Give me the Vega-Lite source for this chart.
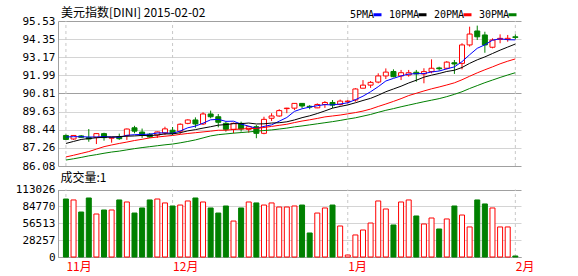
{
  "$schema": "https://vega.github.io/schema/vega-lite/v6.json",
  "width": 463,
  "height": 236,
  "autosize": {"type": "none"},
  "padding": {"left": 58, "top": 21, "right": 57, "bottom": 19},
  "background": "#ffffff",
  "title": {"text": "美元指数[DINI] 2015-02-02", "anchor": "start", "frame": "group", "font": "Noto Sans CJK SC", "fontSize": 12, "fontWeight": "normal", "color": "#000000", "offset": -11, "dx": 3},
  "config": {"view": {"stroke": null}, "axis": {"labelOverlap": false}},
  "datasets": {
    "k": [
      {"i":1,"d":"dn","o":88.07,"h":88.14,"l":87.78,"c":87.81,"v":97100,"ma5":87.97,"ma10":87.55,"ma20":86.67,"ma30":86.47},
      {"i":2,"d":"up","o":87.84,"h":88.10,"l":87.78,"c":88.07,"v":95500,"ma5":87.99,"ma10":87.68,"ma20":86.78,"ma30":86.55},
      {"i":3,"d":"dn","o":88.04,"h":88.10,"l":87.91,"c":87.95,"v":75300,"ma5":87.99,"ma10":87.81,"ma20":86.90,"ma30":86.64},
      {"i":4,"d":"dn","o":87.93,"h":88.49,"l":87.66,"c":87.84,"v":98800,"ma5":87.97,"ma10":87.87,"ma20":87.02,"ma30":86.74},
      {"i":5,"d":"up","o":87.95,"h":88.23,"l":87.51,"c":88.19,"v":72000,"ma5":87.97,"ma10":87.92,"ma20":87.18,"ma30":86.82},
      {"i":6,"d":"dn","o":88.19,"h":88.25,"l":87.73,"c":87.93,"v":78700,"ma5":88.00,"ma10":87.95,"ma20":87.34,"ma30":86.91},
      {"i":7,"d":"up","o":87.89,"h":87.97,"l":87.60,"c":87.95,"v":78700,"ma5":87.97,"ma10":87.97,"ma20":87.45,"ma30":86.99},
      {"i":8,"d":"dn","o":87.97,"h":88.19,"l":87.78,"c":87.86,"v":95500,"ma5":87.95,"ma10":88.00,"ma20":87.55,"ma30":87.05},
      {"i":9,"d":"up","o":88.07,"h":88.52,"l":87.78,"c":88.49,"v":92100,"ma5":88.08,"ma10":88.02,"ma20":87.64,"ma30":87.13},
      {"i":10,"d":"dn","o":88.57,"h":88.70,"l":88.21,"c":88.35,"v":73600,"ma5":88.12,"ma10":88.04,"ma20":87.74,"ma30":87.21},
      {"i":11,"d":"dn","o":88.29,"h":88.52,"l":87.91,"c":88.07,"v":82100,"ma5":88.14,"ma10":88.07,"ma20":87.82,"ma30":87.28},
      {"i":12,"d":"dn","o":88.15,"h":88.23,"l":87.91,"c":87.97,"v":95500,"ma5":88.15,"ma10":88.06,"ma20":87.91,"ma30":87.34},
      {"i":13,"d":"up","o":88.10,"h":88.33,"l":87.91,"c":88.30,"v":97100,"ma5":88.23,"ma10":88.10,"ma20":87.97,"ma30":87.40},
      {"i":14,"d":"up","o":88.23,"h":88.64,"l":88.10,"c":88.50,"v":90500,"ma5":88.24,"ma10":88.17,"ma20":88.02,"ma30":87.46},
      {"i":15,"d":"dn","o":88.41,"h":88.62,"l":88.10,"c":88.21,"v":85400,"ma5":88.21,"ma10":88.17,"ma20":88.07,"ma30":87.51},
      {"i":16,"d":"up","o":88.35,"h":88.86,"l":88.17,"c":88.80,"v":87000,"ma5":88.36,"ma10":88.25,"ma20":88.14,"ma30":87.59},
      {"i":17,"d":"up","o":88.86,"h":89.12,"l":88.80,"c":89.08,"v":93800,"ma5":88.57,"ma10":88.37,"ma20":88.20,"ma30":87.68},
      {"i":18,"d":"dn","o":89.08,"h":89.25,"l":88.57,"c":88.82,"v":98800,"ma5":88.68,"ma10":88.45,"ma20":88.25,"ma30":87.78},
      {"i":19,"d":"up","o":88.82,"h":89.58,"l":88.75,"c":89.47,"v":92100,"ma5":88.87,"ma10":88.55,"ma20":88.30,"ma30":87.91},
      {"i":20,"d":"dn","o":89.47,"h":89.69,"l":89.19,"c":89.29,"v":82100,"ma5":89.09,"ma10":88.64,"ma20":88.35,"ma30":88.04},
      {"i":21,"d":"dn","o":89.29,"h":89.47,"l":88.60,"c":88.93,"v":73600,"ma5":89.12,"ma10":88.74,"ma20":88.41,"ma30":88.12},
      {"i":22,"d":"dn","o":88.86,"h":88.97,"l":88.32,"c":88.47,"v":85400,"ma5":88.99,"ma10":88.78,"ma20":88.41,"ma30":88.17},
      {"i":23,"d":"up","o":88.47,"h":88.91,"l":88.21,"c":88.86,"v":60200,"ma5":89.00,"ma10":88.84,"ma20":88.46,"ma30":88.22},
      {"i":24,"d":"dn","o":88.86,"h":88.97,"l":88.32,"c":88.49,"v":82100,"ma5":88.81,"ma10":88.84,"ma20":88.49,"ma30":88.26},
      {"i":25,"d":"up","o":88.47,"h":88.68,"l":88.25,"c":88.64,"v":92100,"ma5":88.68,"ma10":88.88,"ma20":88.52,"ma30":88.30},
      {"i":26,"d":"dn","o":88.64,"h":88.75,"l":87.89,"c":88.21,"v":90500,"ma5":88.53,"ma10":88.82,"ma20":88.53,"ma30":88.35},
      {"i":27,"d":"up","o":88.21,"h":89.29,"l":88.15,"c":89.12,"v":87000,"ma5":88.66,"ma10":88.83,"ma20":88.59,"ma30":88.39},
      {"i":28,"d":"up","o":89.19,"h":89.52,"l":89.01,"c":89.34,"v":90500,"ma5":88.76,"ma10":88.88,"ma20":88.66,"ma30":88.43},
      {"i":29,"d":"up","o":89.34,"h":89.78,"l":89.29,"c":89.69,"v":83700,"ma5":89.00,"ma10":88.90,"ma20":88.73,"ma30":88.49},
      {"i":30,"d":"up","o":89.82,"h":89.87,"l":89.52,"c":89.85,"v":83700,"ma5":89.24,"ma10":88.96,"ma20":88.80,"ma30":88.55},
      {"i":31,"d":"up","o":89.85,"h":90.18,"l":89.73,"c":90.16,"v":85400,"ma5":89.64,"ma10":89.08,"ma20":88.91,"ma30":88.63},
      {"i":32,"d":"dn","o":90.16,"h":90.18,"l":89.85,"c":89.99,"v":87000,"ma5":89.81,"ma10":89.23,"ma20":89.01,"ma30":88.69},
      {"i":33,"d":"dn","o":89.97,"h":90.05,"l":89.78,"c":89.92,"v":40200,"ma5":89.92,"ma10":89.35,"ma20":89.09,"ma30":88.76},
      {"i":34,"d":"up","o":89.87,"h":90.16,"l":89.85,"c":90.09,"v":73600,"ma5":90.01,"ma10":89.50,"ma20":89.18,"ma30":88.83},
      {"i":35,"d":"up","o":90.09,"h":90.31,"l":89.87,"c":90.22,"v":82100,"ma5":90.08,"ma10":89.67,"ma20":89.28,"ma30":88.90},
      {"i":36,"d":"dn","o":90.22,"h":90.38,"l":89.85,"c":90.05,"v":87000,"ma5":90.06,"ma10":89.85,"ma20":89.34,"ma30":88.97},
      {"i":37,"d":"up","o":90.09,"h":90.41,"l":90.02,"c":90.31,"v":51900,"ma5":90.12,"ma10":89.96,"ma20":89.40,"ma30":89.05},
      {"i":38,"d":"up","o":90.27,"h":90.38,"l":90.16,"c":90.31,"v":3300,"ma5":90.20,"ma10":90.06,"ma20":89.48,"ma30":89.14},
      {"i":39,"d":"up","o":90.38,"h":91.15,"l":90.27,"c":91.10,"v":36900,"ma5":90.40,"ma10":90.20,"ma20":89.56,"ma30":89.22},
      {"i":40,"d":"up","o":91.15,"h":91.68,"l":91.15,"c":91.35,"v":45200,"ma5":90.63,"ma10":90.35,"ma20":89.66,"ma30":89.33},
      {"i":41,"d":"up","o":91.35,"h":91.62,"l":91.17,"c":91.53,"v":56900,"ma5":90.92,"ma10":90.49,"ma20":89.79,"ma30":89.44},
      {"i":42,"d":"up","o":91.55,"h":92.12,"l":91.47,"c":91.95,"v":93800,"ma5":91.25,"ma10":90.69,"ma20":89.96,"ma30":89.58},
      {"i":43,"d":"up","o":91.95,"h":92.44,"l":91.75,"c":92.20,"v":80400,"ma5":91.62,"ma10":90.92,"ma20":90.12,"ma30":89.71},
      {"i":44,"d":"dn","o":92.24,"h":92.38,"l":91.86,"c":91.90,"v":53600,"ma5":91.79,"ma10":91.10,"ma20":90.29,"ma30":89.82},
      {"i":45,"d":"up","o":91.95,"h":92.34,"l":91.68,"c":92.16,"v":92100,"ma5":91.95,"ma10":91.28,"ma20":90.47,"ma30":89.94},
      {"i":46,"d":"up","o":92.01,"h":92.34,"l":91.90,"c":92.16,"v":95500,"ma5":92.07,"ma10":91.49,"ma20":90.67,"ma30":90.05},
      {"i":47,"d":"dn","o":92.19,"h":92.34,"l":91.57,"c":92.08,"v":68700,"ma5":92.10,"ma10":91.67,"ma20":90.82,"ma30":90.16},
      {"i":48,"d":"up","o":92.08,"h":92.45,"l":91.47,"c":92.23,"v":55300,"ma5":92.10,"ma10":91.87,"ma20":90.97,"ma30":90.27},
      {"i":49,"d":"up","o":92.23,"h":93.03,"l":92.12,"c":92.45,"v":65300,"ma5":92.21,"ma10":92.00,"ma20":91.11,"ma30":90.37},
      {"i":50,"d":"dn","o":92.47,"h":92.55,"l":92.29,"c":92.42,"v":46900,"ma5":92.27,"ma10":92.11,"ma20":91.23,"ma30":90.47},
      {"i":51,"d":"up","o":92.45,"h":92.92,"l":92.38,"c":92.85,"v":63700,"ma5":92.41,"ma10":92.24,"ma20":91.36,"ma30":90.60},
      {"i":52,"d":"dn","o":92.81,"h":92.99,"l":92.08,"c":92.73,"v":85400,"ma5":92.54,"ma10":92.32,"ma20":91.50,"ma30":90.75},
      {"i":53,"d":"up","o":92.77,"h":94.08,"l":92.38,"c":93.97,"v":70300,"ma5":92.88,"ma10":92.50,"ma20":91.70,"ma30":90.92},
      {"i":54,"d":"up","o":93.97,"h":95.16,"l":93.86,"c":94.68,"v":50300,"ma5":93.33,"ma10":92.77,"ma20":91.93,"ma30":91.13},
      {"i":55,"d":"dn","o":94.88,"h":95.23,"l":94.29,"c":94.50,"v":95500,"ma5":93.75,"ma10":93.00,"ma20":92.15,"ma30":91.32},
      {"i":56,"d":"dn","o":94.62,"h":94.83,"l":93.46,"c":93.97,"v":88800,"ma5":93.98,"ma10":93.19,"ma20":92.35,"ma30":91.51},
      {"i":57,"d":"up","o":93.82,"h":94.40,"l":93.75,"c":94.29,"v":82100,"ma5":94.28,"ma10":93.41,"ma20":92.54,"ma30":91.68},
      {"i":58,"d":"up","o":94.33,"h":94.66,"l":94.08,"c":94.40,"v":50300,"ma5":94.37,"ma10":93.63,"ma20":92.74,"ma30":91.85},
      {"i":59,"d":"up","o":94.33,"h":94.62,"l":94.18,"c":94.40,"v":50300,"ma5":94.31,"ma10":93.83,"ma20":92.91,"ma30":92.01},
      {"i":60,"d":"dn","o":94.50,"h":94.66,"l":94.33,"c":94.46,"v":1700,"ma5":94.30,"ma10":94.03,"ma20":93.06,"ma30":92.16}
    ],
    "m": [{"i":1},{"i":15},{"i":38},{"i":60}]
  },
  "data": {"name": "k"},
  "encoding": {
    "x": {"field": "i", "type": "quantitative",
      "scale": {"domain": [0.6147, 60.088], "nice": false, "zero": false},
      "axis": {"values": [1, 15, 38, 60], "labelExpr": "datum.value == 1 ? '11月' : datum.value == 15 ? '12月' : datum.value == 38 ? '1月' : '2月'", "title": null, "grid": false, "ticks": false, "domainColor": "#a0a0a0", "labelColor": "#ff0000", "labelFont": "Noto Sans CJK SC", "labelFontSize": 12, "labelAlign": "left", "labelDx": -2, "labelPadding": 4, "labelFlush": false, "labelOverlap": false}}
  },
  "layer": [
    {
      "encoding": {
        "y": {"type": "quantitative",
          "scale": {"domain": [86.08, 95.53], "range": [145, 0], "nice": false, "zero": false},
          "axis": {"orient": "left", "values": [95.53, 94.35, 93.17, 91.99, 90.81, 89.63, 88.44, 87.26, 86.08], "format": ".2f", "title": null, "ticks": false, "labelPadding": 3, "labelFont": "DejaVu Sans Mono", "labelFontSize": 11, "labelColor": "#000000", "labelBaseline": "middle", "labelFlush": false, "labelOverlap": false, "domainColor": "#a0a0a0", "grid": true, "gridColor": {"condition": {"test": "datum.value == 95.53 || datum.value == 90.81 || datum.value == 86.08", "value": "#a0a0a0"}, "value": "#d4d4d4"}}}
      },
      "layer": [
        {"data": {"name": "m"}, "mark": {"type": "rule", "color": "#c8c8c8", "strokeDash": [3, 3], "strokeWidth": 1},
         "encoding": {"y": {"datum": 86.08}, "y2": {"datum": 95.53}}},
        {"data": {"values": [{}]}, "mark": {"type": "rule", "color": "#a0a0a0", "strokeWidth": 1},
         "encoding": {"x": {"datum": 60.088, "type": "quantitative"}, "y": {"datum": 86.08}, "y2": {"datum": 95.53}}},
        {"mark": {"type": "rule", "strokeWidth": 1},
         "encoding": {
           "y": {"field": "l"},
           "y2": {"field": "h"},
           "stroke": {"field": "d", "type": "nominal", "scale": {"domain": ["up", "dn"], "range": ["#ff0000", "#008000"]}, "legend": null}}},
        {"mark": {"type": "bar", "width": 5, "strokeWidth": 1},
         "encoding": {
           "y": {"field": "o"},
           "y2": {"field": "c"},
           "fill": {"field": "d", "type": "nominal", "scale": {"domain": ["up", "dn"], "range": ["#ffffff", "#008000"]}, "legend": null},
           "stroke": {"field": "d", "type": "nominal", "scale": {"domain": ["up", "dn"], "range": ["#ff0000", "#008000"]}, "legend": null}}},
        {"transform": [{"fold": ["ma5", "ma10", "ma20", "ma30"], "as": ["s", "val"]}],
         "mark": {"type": "line", "strokeWidth": 1},
         "encoding": {
           "y": {"field": "val"},
           "color": {"field": "s", "type": "nominal", "sort": null,
             "scale": {"domain": ["ma5", "ma10", "ma20", "ma30"], "range": ["#0000ff", "#000000", "#ff0000", "#008000"]},
             "legend": {"orient": "none", "legendX": 314, "legendY": -12, "direction": "horizontal", "title": null, "symbolType": "stroke", "symbolSize": 64, "symbolStrokeWidth": 3, "labelAlign": "right", "labelOffset": -9, "columnPadding": 0, "labelFont": "DejaVu Sans Mono", "labelFontSize": 10, "labelColor": "#000000", "padding": 0,
               "labelExpr": "datum.label == 'ma5' ? '5PMA' : datum.label == 'ma10' ? '10PMA' : datum.label == 'ma20' ? '20PMA' : '30PMA'"}}}}
      ]
    },
    {
      "encoding": {
        "y": {"type": "quantitative",
          "scale": {"domain": [0, 113026], "range": [236, 168.5], "nice": false, "zero": true},
          "axis": {"orient": "left", "values": [0, 28257, 56513, 84770, 113026], "format": "d", "ticks": false, "labelPadding": 3, "labelFont": "DejaVu Sans Mono", "labelFontSize": 11, "labelColor": "#000000", "labelBaseline": "middle", "labelFlush": false, "labelOverlap": false, "domainColor": "#a0a0a0", "grid": true, "gridColor": {"condition": {"test": "datum.value == 113026 || datum.value == 0", "value": "#a0a0a0"}, "value": "#d4d4d4"},
            "title": "成交量:1", "titleX": 2, "titleY": 156, "titleAngle": 0, "titleAlign": "left", "titleBaseline": "middle", "titleFont": "Noto Sans CJK SC", "titleFontSize": 12, "titleFontWeight": "normal", "titleColor": "#000000"}}
      },
      "layer": [
        {"data": {"name": "m"}, "mark": {"type": "rule", "color": "#c8c8c8", "strokeDash": [3, 3], "strokeWidth": 1},
         "encoding": {"y": {"datum": 0}, "y2": {"datum": 113026}}},
        {"data": {"values": [{}]}, "mark": {"type": "rule", "color": "#a0a0a0", "strokeWidth": 1},
         "encoding": {"x": {"datum": 60.088, "type": "quantitative"}, "y": {"datum": 0}, "y2": {"datum": 113026}}},
        {"mark": {"type": "bar", "width": 5, "strokeWidth": 1},
         "encoding": {
           "y": {"field": "v"},
           "y2": {"datum": 0},
           "fill": {"field": "d", "type": "nominal", "scale": {"domain": ["up", "dn"], "range": ["#ffffff", "#008000"]}, "legend": null},
           "stroke": {"field": "d", "type": "nominal", "scale": {"domain": ["up", "dn"], "range": ["#ff0000", "#008000"]}, "legend": null}}}
      ]
    }
  ],
  "resolve": {"scale": {"y": "independent"}, "axis": {"y": "independent"}}
}
